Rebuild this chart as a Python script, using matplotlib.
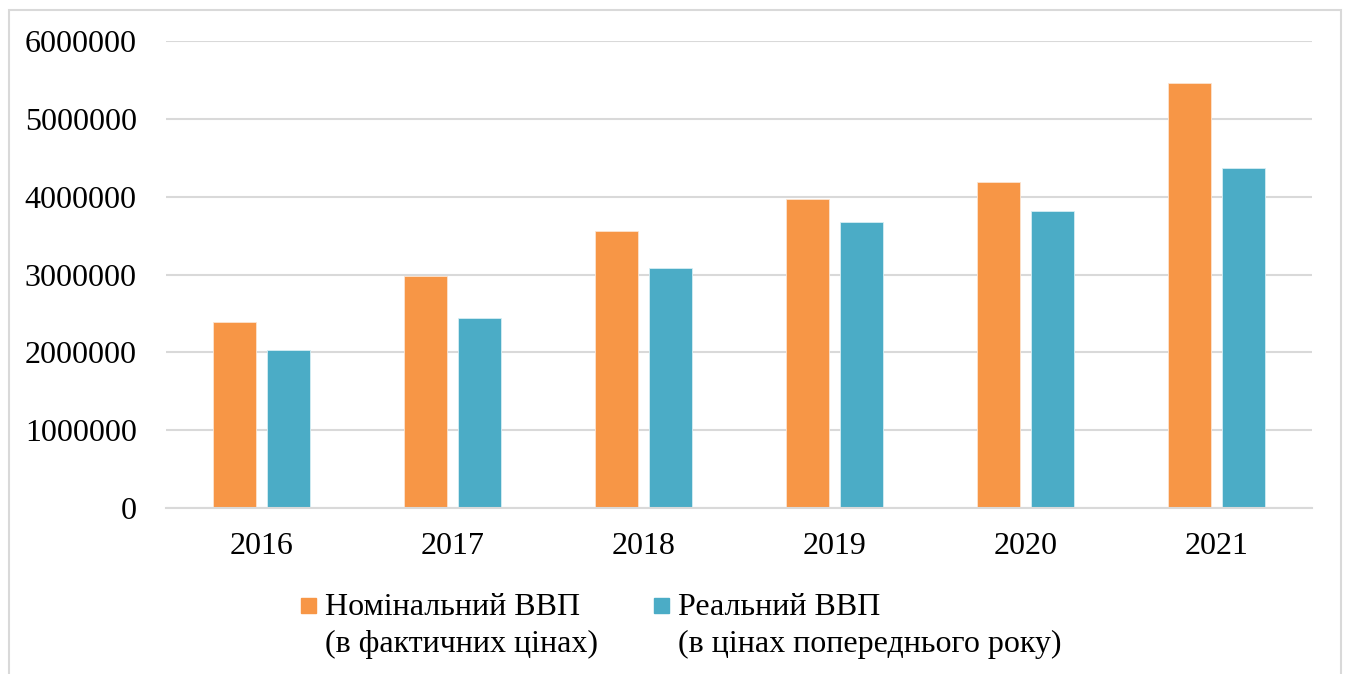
import matplotlib
matplotlib.use("Agg")
import matplotlib.pyplot as plt
from matplotlib.patches import Rectangle
import numpy as np

years = ["2016", "2017", "2018", "2019", "2020", "2021"]
nominal_gdp = [2385367, 2983882, 3560596, 3974564, 4194102, 5459574]
real_gdp = [2030000, 2440000, 3085000, 3680000, 3820000, 4365000]
series_labels = ["Номінальний ВВП\n(в фактичних цінах)",
                 "Реальний ВВП\n(в цінах попереднього року)"]
series_colors = ["#F79646", "#4BACC6"]
yticks = [0, 1000000, 2000000, 3000000, 4000000, 5000000, 6000000]

plt.rcParams['font.family'] = ['Liberation Serif', 'DejaVu Serif']

W, H = 1346, 674
fig = plt.figure(figsize=(W / 100, H / 100), dpi=100)
ax = fig.add_axes([166 / W, 1 - 508 / H, (1312 - 166) / W, (508 - 41) / H])

x = np.arange(len(years))
bw = 0.225
off = 0.143
ax.bar(x - off, nominal_gdp, width=bw, color=series_colors[0], edgecolor="#FCE4D0", linewidth=0.6, zorder=3)
ax.bar(x + off, real_gdp, width=bw, color=series_colors[1], edgecolor="#D6EEF3", linewidth=0.6, zorder=3)

ax.set_xlim(-0.5, len(years) - 0.5)
ax.set_ylim(0, 6000000)
ax.set_yticks(yticks)
ax.set_yticklabels([str(v) for v in yticks])
ax.set_xticks(x)
ax.set_xticklabels(years)
ax.tick_params(axis='y', length=0, pad=21, labelsize=23, colors='black')
ax.tick_params(axis='x', length=0, pad=17, labelsize=23, colors='black')
ax.grid(axis='y', color='#D9D9D9', linewidth=1.5, zorder=0)
for s in ['top', 'right', 'left']:
    ax.spines[s].set_visible(False)
ax.spines['bottom'].set_color('#D9D9D9')
ax.spines['bottom'].set_linewidth(1.5)
ax.spines['bottom'].set_zorder(4)

# legend (manual, square aligned to first line)
leg_sq_x = [301, 654]
leg_tx_x = [325, 678]
for i in range(2):
    fig.patches.append(Rectangle((leg_sq_x[i] / W, 1 - 613 / H), 15 / W, 15 / H,
                                 transform=fig.transFigure, color=series_colors[i]))
    fig.text(leg_tx_x[i] / W, 1 - 593 / H, series_labels[i], ha='left', va='top',
             fontsize=23, linespacing=1.36)

# outer border
fig.patches.append(Rectangle((8.5 / W, -0.01), (1341 - 8.5) / W, 1 - 10 / H + 0.01,
                             transform=fig.transFigure, fill=False,
                             edgecolor='#D9D9D9', linewidth=1.5))

fig.savefig("out.png", dpi=100)
